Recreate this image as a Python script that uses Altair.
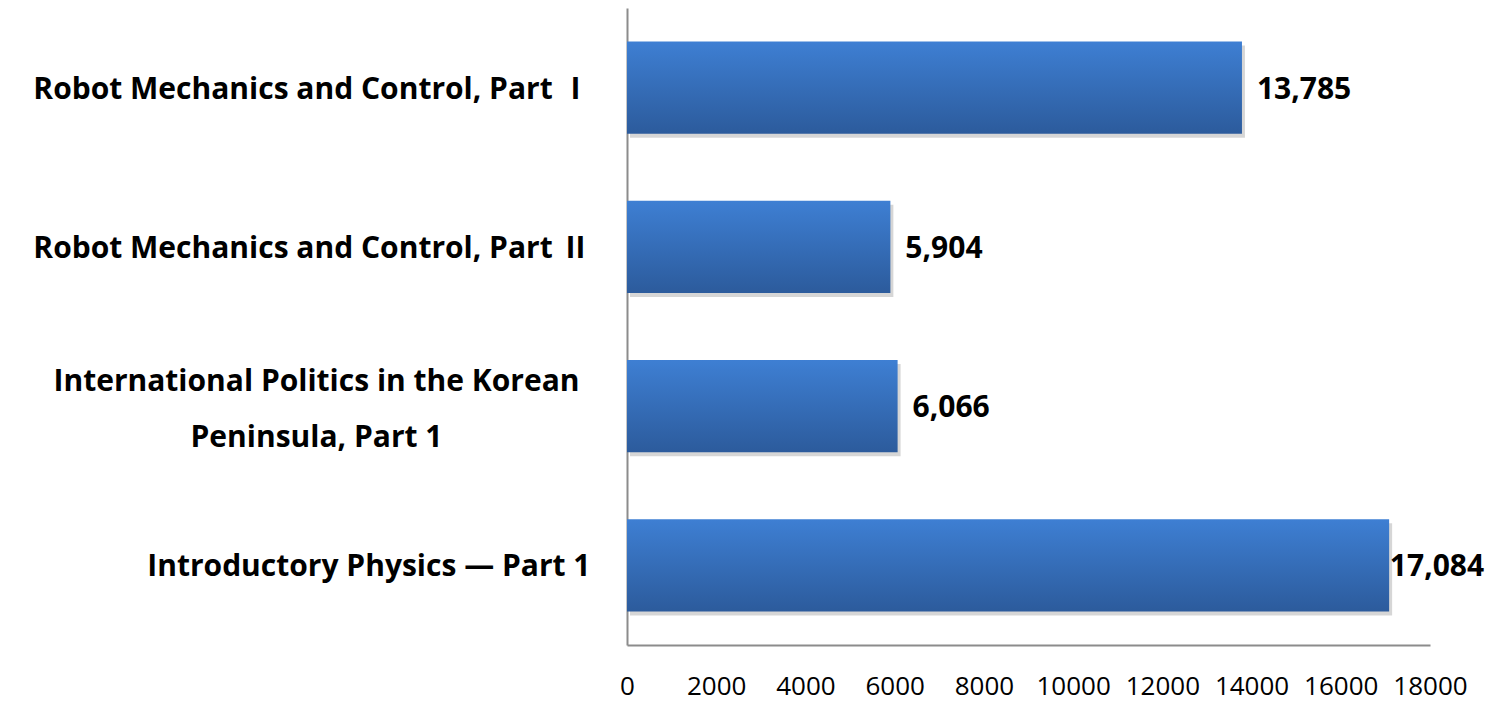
import altair as alt
import pandas as pd

categories = [
    "Robot Mechanics and Control, Part Ⅰ",
    "Robot Mechanics and Control, Part Ⅱ",
    "International Politics in the Korean Peninsula, Part 1",
    "Introductory Physics — Part 1",
]
values = [13785, 5904, 6066, 17084]
x_ticks = [0, 2000, 4000, 6000, 8000, 10000, 12000, 14000, 16000, 18000]

df = pd.DataFrame({"course": categories, "value": values})

FONT = "Open Sans, Noto Sans CJK KR"
LONG = "International Politics in the Korean Peninsula, Part 1"
cond = f"datum.value == '{LONG}'"

y_enc = alt.Y(
    "course:N",
    sort=categories,
    scale=alt.Scale(paddingInner=0.42, paddingOuter=0.21),
    axis=alt.Axis(
        title=None,
        ticks=False,
        domainColor="#8c8c8c",
        domainWidth=2,
        labelFont=FONT,
        labelFontSize=30,
        labelFontWeight="bold",
        labelColor="#000000",
        labelLimit=700,
        labelLineHeight=56,
        labelAlign={"condition": {"test": cond, "value": "center"}, "value": "right"},
        labelPadding={"condition": {"test": cond, "value": 311}, "value": 37},
        labelOffset={"condition": {"test": cond, "value": -24}, "value": 2},
        labelExpr=f"{cond} ? ['International Politics in the Korean ', 'Peninsula, Part 1'] : datum.value",
    ),
)

x_scale = alt.Scale(domain=[0, 18000], nice=False)
x_enc = alt.X(
    "value:Q",
    scale=x_scale,
    axis=alt.Axis(
        title=None,
        values=x_ticks,
        ticks=False,
        grid=False,
        domainColor="#8c8c8c",
        domainWidth=2,
        labelFont=FONT,
        labelFontSize=26,
        labelColor="#000000",
        labelPadding=28,
        labelFlush=False,
        labelOverlap=False,
        format="d",
    ),
)

shadow = alt.Chart(df).mark_bar(
    color="#000000", opacity=0.16, xOffset=3, yOffset=4
).encode(x=alt.X("value:Q", scale=x_scale), y=alt.Y("course:N", sort=categories))

bars = alt.Chart(df).mark_bar(
    color=alt.Gradient(
        gradient="linear",
        stops=[
            alt.GradientStop(color="#3e7fd3", offset=0),
            alt.GradientStop(color="#2c5b9c", offset=1),
        ],
        x1=0, x2=0, y1=0, y2=1,
    )
).encode(x=x_enc, y=y_enc)

labels = alt.Chart(df).transform_calculate(
    lx="min(datum.value + 336, 17100)"
).mark_text(
    align="left", baseline="middle", font=FONT, fontSize=30, fontWeight="bold", color="#000000", dy=2
).encode(
    x=alt.X("lx:Q", scale=x_scale),
    y=alt.Y("course:N", sort=categories),
    text=alt.Text("value:Q", format=","),
)

chart = alt.layer(shadow, bars, labels).properties(
    width=803,
    height=637,
    background="#ffffff",
    autosize=alt.AutoSizeParams(type="none"),
    padding={"left": 619, "top": 0, "right": 63, "bottom": 56},
).configure_view(stroke=None)

chart.save("out.html", embed_options={"renderer": "svg", "actions": False})
